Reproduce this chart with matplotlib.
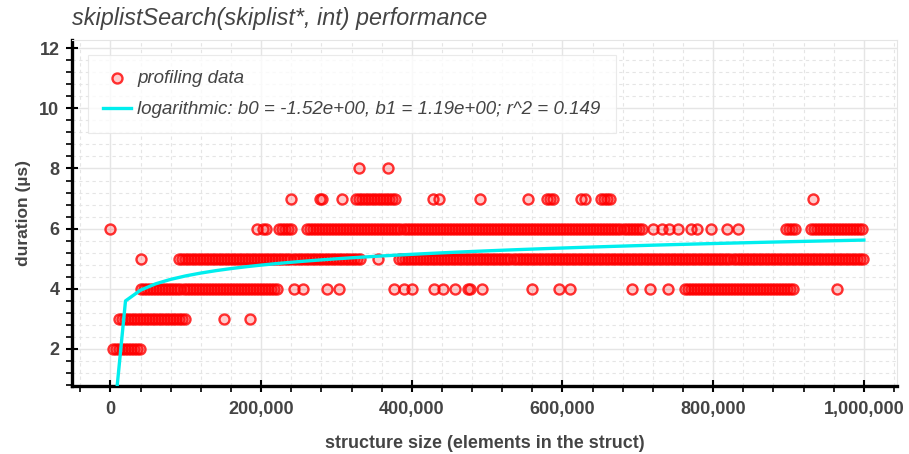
import numpy as np
import matplotlib.pyplot as plt
from matplotlib.ticker import MultipleLocator, FuncFormatter

# profiling data: sizes in thousands of elements, grouped by measured duration (us)
# runs are (first, last) stretches of consecutive sampled sizes, singles are lone sizes
dur8_single = [330, 368]
dur7_runs = [(326, 380), (651, 666)]
dur7_single = [240, 278, 281, 307, 428, 436, 491, 554, 580, 584, 588, 624, 630, 932]
dur6_runs = [(224, 241), (261, 706), (897, 909), (930, 1000)]
dur6_single = [0, 195, 202, 207, 720, 732, 741, 753, 770, 779, 797, 819, 833]
dur5_runs = [(91, 331), (383, 1000)]
dur5_single = [40, 355]
dur4_runs = [(41, 221), (762, 909)]
dur4_single = [244, 256, 288, 303, 377, 390, 400, 430, 441, 457, 474, 477, 493,
               559, 596, 610, 692, 716, 740, 965]
dur3_runs = [(11, 99)]
dur3_single = [151, 185]
dur2_runs = [(3, 39)]
dur2_single = []

levels = {
    8: ([], dur8_single),
    7: (dur7_runs, dur7_single),
    6: (dur6_runs, dur6_single),
    5: (dur5_runs, dur5_single),
    4: (dur4_runs, dur4_single),
    3: (dur3_runs, dur3_single),
    2: (dur2_runs, dur2_single),
}

# logarithmic fit y = b0 + b1*log10(x)
b0, b1, r2 = -1.52, 1.19, 0.149
fit_x = np.array([1] + list(range(20000, 1000001, 20000)), dtype=float)

xs, ys = [], []
for dur, (runs, singles) in levels.items():
    for a, b in runs:
        pts = np.arange(a, b + 1, 4)
        xs.extend(pts * 1000)
        ys.extend([dur] * len(pts))
    xs.extend(np.array(singles) * 1000)
    ys.extend([dur] * len(singles))

plt.rcParams['font.family'] = ['Liberation Sans', 'DejaVu Sans']
txt = '#444444'

fig = plt.figure(figsize=(9.09, 4.54), dpi=100)
ax = fig.add_axes([72 / 909, 1 - 386 / 454, 825 / 909, 346 / 454])

ax.scatter(xs, ys, s=52, facecolor=(1, 0, 0, 0.2), edgecolor=(1, 0, 0, 0.8),
           linewidth=1.7, label='profiling data', zorder=3)
ax.plot(fit_x, b0 + b1 * np.log10(fit_x), color='#00eeee', lw=2.4, zorder=4,
        label=f'logarithmic: b0 = {b0:.2e}, b1 = {b1:.2e}; r^2 = {r2}')

ax.set_xlim(-51000, 1044000)
ax.set_ylim(0.77, 12.27)
ax.xaxis.set_major_locator(MultipleLocator(200000))
ax.xaxis.set_minor_locator(MultipleLocator(40000))
ax.yaxis.set_major_locator(MultipleLocator(2))
ax.yaxis.set_minor_locator(MultipleLocator(0.4))
ax.xaxis.set_major_formatter(FuncFormatter(lambda v, p: f'{int(v):,}'))

ax.grid(which='major', color='#e5e5e5', lw=1)
ax.grid(which='minor', color='#e5e5e5', lw=0.8, ls=(0, (3, 3)))
ax.set_axisbelow(True)

for s in ['top', 'right']:
    ax.spines[s].set_color('#e5e5e5')
    ax.spines[s].set_linewidth(0.8)
for s in ['left', 'bottom']:
    ax.spines[s].set_linewidth(2.4)
    ax.spines[s].set_color('black')

ax.tick_params(which='major', direction='inout', length=8, width=1.5,
               labelsize=13, labelcolor=txt)
ax.tick_params(axis='x', which='major', pad=7)
ax.tick_params(axis='y', which='major', pad=5)
ax.tick_params(which='minor', direction='out', length=4, width=1.2)
for lab in ax.get_xticklabels() + ax.get_yticklabels():
    lab.set_fontweight('bold')

ax.set_xlabel('structure size (elements in the struct)', fontsize=12.9,
              fontweight='bold', color=txt, labelpad=12)
ax.set_ylabel('duration (µs)', fontsize=12.5, fontweight='bold', color=txt, labelpad=6)
ax.set_title('skiplistSearch(skiplist*, int) performance', loc='left', fontsize=16.8,
             style='italic', color=txt, pad=11)

leg = ax.legend(loc='upper left', bbox_to_anchor=(0.019, 0.957),
                prop={'style': 'italic', 'size': 13.5}, frameon=True, fancybox=False,
                handlelength=1.5, borderpad=0.8, labelspacing=0.75, handletextpad=0.35,
                borderaxespad=0)
leg.get_frame().set_edgecolor('#e5e5e5')
leg.get_frame().set_linewidth(0.8)
for t in leg.get_texts():
    t.set_color(txt)

fig.savefig('out.png', dpi=100)
